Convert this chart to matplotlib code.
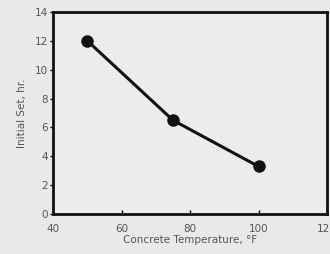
import matplotlib

matplotlib.use("Agg")
import matplotlib.pyplot as plt

# concrete temperature (F) vs initial set time (hr)
temp_f = [50, 75, 100]
initial_set_hr = [12.0, 6.5, 3.3]

x_ticks = [40, 60, 80, 100, 120]
y_ticks = [0, 2, 4, 6, 8, 10, 12, 14]

fig = plt.figure(figsize=(3.30, 2.54), dpi=100)
fig.patch.set_facecolor("#e9e9e9")
ax = fig.add_axes([0.161, 0.157, 0.83, 0.796])
ax.set_facecolor("#ececec")

ax.plot(temp_f, initial_set_hr, color="#111111", lw=2.2, marker="o",
        ms=8, mfc="#111111", mec="#111111", clip_on=False, zorder=3)

ax.set_xlim(40, 120)
ax.set_ylim(0, 14)
ax.set_xticks(x_ticks)
ax.set_yticks(y_ticks)
for s in ax.spines.values():
    s.set_linewidth(2.0)
    s.set_color("#111111")
ax.tick_params(axis="x", direction="in", length=3, width=1, labelsize=7.5,
               labelcolor="#555555", pad=7)
ax.tick_params(axis="y", direction="out", length=2, width=1, labelsize=7.5,
               labelcolor="#555555", pad=2)
ax.set_xlabel("Concrete Temperature, °F", fontsize=7.5, color="#555555", labelpad=1)
ax.set_ylabel("Initial Set, hr.", fontsize=7.5, color="#555555", labelpad=5)

fig.savefig("out.png", dpi=100, facecolor=fig.get_facecolor())
